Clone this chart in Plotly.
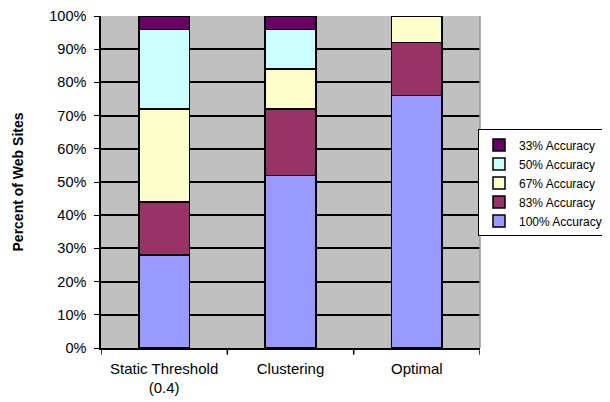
import plotly.graph_objects as go

categories = ["Static Threshold<br>(0.4)", "Clustering", "Optimal"]
series_names = ["100% Accuracy", "83% Accuracy", "67% Accuracy", "50% Accuracy", "33% Accuracy"]
acc100 = [28, 52, 76]
acc83 = [16, 20, 16]
acc67 = [28, 12, 8]
acc50 = [24, 12, 0]
acc33 = [4, 4, 0]
tick_vals = [0, 10, 20, 30, 40, 50, 60, 70, 80, 90, 100]
tick_text = ["0%", "10%", "20%", "30%", "40%", "50%", "60%", "70%", "80%", "90%", "100%"]

colors = ["#9999FF", "#993366", "#FFFFCC", "#CCFFFF", "#660066"]
values = [acc100, acc83, acc67, acc50, acc33]

fig = go.Figure()
for name, vals, col in zip(series_names, values, colors):
    fig.add_trace(go.Bar(
        x=[0, 1, 2], y=vals, name=name,
        marker=dict(color=col, line=dict(color="black", width=1.5)),
    ))

# the page body adds an 8px offset, so the figure is 8px smaller
font = "Arial, Liberation Sans, sans-serif"
fig.update_layout(
    barmode="stack",
    bargap=0.6,
    width=602, height=394,
    margin=dict(l=93, r=130, t=8, b=54, autoexpand=False),
    paper_bgcolor="white",
    plot_bgcolor="#C0C0C0",
    font=dict(family=font, size=13, color="black"),
    legend=dict(
        x=1.3377, xanchor="right", y=0.497, yanchor="middle",
        traceorder="reversed",
        bordercolor="black", borderwidth=1,
        font=dict(size=12), bgcolor="white",
        tracegroupgap=0, itemwidth=30,
    ),
    xaxis=dict(
        range=[-0.5, 2.5], automargin=False,
        tickmode="array", tickvals=[0, 1, 2], ticktext=categories,
        ticks="", showgrid=False, ticklabelstandoff=6,
        showline=True, linecolor="black", linewidth=1.5,
        tickfont=dict(size=15),
        zeroline=False,
    ),
    yaxis=dict(
        range=[0, 100], automargin=False,
        tickmode="array", tickvals=tick_vals, ticktext=tick_text,
        ticks="outside", ticklen=5, tickcolor="black", tickwidth=1,
        ticklabelstandoff=5,
        showgrid=True, gridcolor="black", gridwidth=1.5,
        showline=True, linecolor="black", linewidth=1.5,
        zeroline=False,
        tickfont=dict(size=14.5),
        title=dict(text="<b>Percent of Web Sites</b>", font=dict(size=14), standoff=22),
    ),
    showlegend=True,
)

# category boundary tick marks on the x axis and gray right border
for xb in [-0.5, 0.5, 1.5, 2.5]:
    fig.add_shape(type="line", xref="x", yref="paper", x0=xb, x1=xb, y0=0, y1=-0.02,
                  line=dict(color="black", width=1.5))
fig.add_shape(type="line", xref="paper", yref="paper", x0=1, x1=1, y0=0, y1=1,
              line=dict(color="#999999", width=1.5))

fig.write_html("out.html")
